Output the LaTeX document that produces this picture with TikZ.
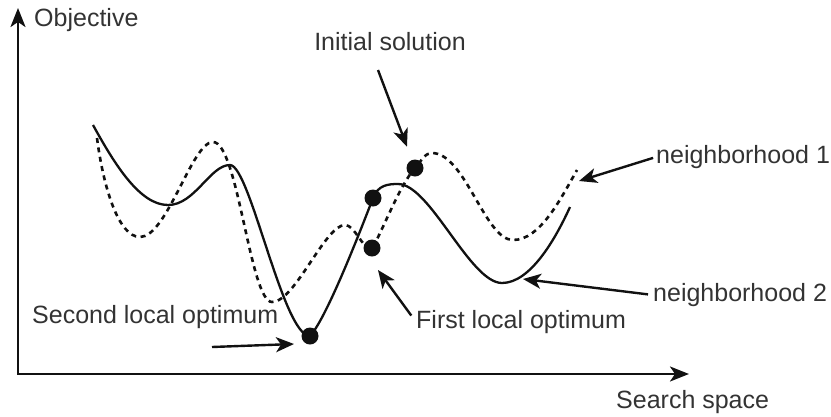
\documentclass[tikz,border=0pt]{standalone}
\usepackage{fontspec}
\setmainfont{Liberation Sans}
\usetikzlibrary{positioning,arrows.meta}
\definecolor{figline}{HTML}{111111}
\definecolor{figtext}{HTML}{333333}

\begin{document}
\begin{tikzpicture}[x=1pt, y=-1pt,
  axis/.style={{Stealth[length=19pt,width=15pt,inset=5pt]}-{Stealth[length=19pt,width=15pt,inset=5pt]},
               line width=2.6pt, draw=figline, line join=miter},
  nbone/.style={line width=2.6pt, dash pattern=on 5pt off 4.5pt, draw=figline},
  nbtwo/.style={line width=2.3pt, draw=figline},
  sol/.style={circle, fill=figline, minimum size=17pt, inner sep=0pt},
  point/.style={-{Stealth[length=18pt,width=15pt,inset=5pt]}, line width=2.4pt, draw=figline},
  lab/.style={font=\fontsize{25}{29}\selectfont, text=figtext, inner sep=0pt}
]
\useasboundingbox (0,0) rectangle (831,416);

% axes
\coordinate (ytop)   at (18,8);
\coordinate (origin) at (18,374);
\coordinate (xend)   at (689,374);
\draw[axis] (ytop) -- (origin) -- (xend);
\node[lab, anchor=west] (objlab)    at (34,20)   {Objective};
\node[lab, anchor=west] (searchlab) at (616,402) {Search space};

% neighborhood 2
\draw[nbtwo] (93,125) .. controls (115,165) and (140,205) .. (168,205)
  .. controls (195,205) and (210,165) .. (230,165)
  .. controls (250,165) and (283,336) .. (310,336)
  .. controls (325,320) and (355,245) .. (373,198)
  .. controls (378,185) and (388,184) .. (398,184)
  .. controls (430,184) and (470,283) .. (502,283)
  .. controls (530,283) and (555,240) .. (570,207);

% neighborhood 1
\draw[nbone] (97,138) .. controls (103,185) and (118,237) .. (140,237)
  .. controls (167,237) and (192,142) .. (213,142)
  .. controls (238,142) and (250,302) .. (272,302)
  .. controls (295,302) and (325,225) .. (345,225)
  .. controls (355,225) and (362,249) .. (372,249)
  .. controls (385,225) and (400,185) .. (415,168)
  .. controls (422,160) and (425,153) .. (432,153)
  .. controls (465,153) and (485,240) .. (513,240)
  .. controls (540,240) and (560,200) .. (577,170);

% solutions
\node[sol] (secondopt) at (310,336) {};
\node[sol] (switchpt)  at (373,198) {};
\node[sol] (firstopt)  at (372,248) {};
\node[sol] (init)      at (415,168) {};

% labels
\node[lab] (initlab) at (390,42) {Initial solution};
\node[lab, anchor=west] (nbonelab)   at (656,157) {neighborhood 1};
\node[lab, anchor=west] (nbtwolab)   at (653,295) {neighborhood 2};
\node[lab, anchor=west] (firstlab)   at (416,322) {First local optimum};
\node[lab, anchor=west] (secondlab)  at (32,317)  {Second local optimum};

% pointers
\coordinate (inittail)   at (378,70);
\coordinate (nbonetip)   at (579,181);
\coordinate (nbtwotip)   at (523,279);
\coordinate (firsttip)   at (378,270);
\coordinate (secondtail) at (212,347);
\coordinate (secondtip)  at (294,344);
\draw[point, shorten >=14pt] (inittail) -- (init);
\draw[point, shorten <=3pt] (nbonelab.west) -- (nbonetip);
\draw[point, shorten <=5pt] (nbtwolab.west) -- (nbtwotip);
\draw[point, shorten <=8pt] (firstlab.west) -- (firsttip);
\draw[point] (secondtail) -- (secondtip);
\end{tikzpicture}
\end{document}
